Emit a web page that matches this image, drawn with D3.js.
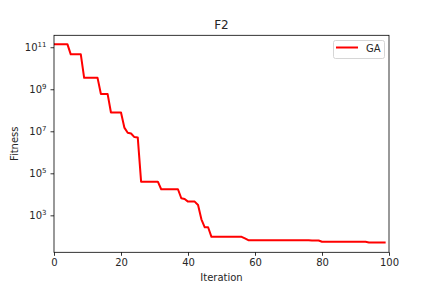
<html>
  <head>
    <style>
      body { margin: 0; background: #fff; }
      text { font-family: "DejaVu Sans", sans-serif; fill: #262626; }
    </style>
    <script src="https://cdnjs.cloudflare.com/ajax/libs/d3/7.8.5/d3.min.js"></script>
  </head>
  <body>
    <script>
      // Best fitness per iteration.
      var iterations = d3.range(0, 100);
      var fitness = [
        1.4e11, 1.4e11, 1.4e11, 1.4e11, 1.4e11,
        4.6e10, 4.6e10, 4.6e10, 4.6e10,
        3.5e9, 3.5e9, 3.5e9, 3.5e9, 3.5e9,
        6.0e8, 6.0e8, 6.0e8,
        7.8e7, 7.8e7, 7.8e7, 7.8e7,
        1.5e7, 8.5e6, 7.8e6, 5.3e6, 5.1e6,
        4.0e4, 4.0e4, 4.0e4, 4.0e4, 4.0e4, 4.0e4,
        1.74e4, 1.74e4, 1.74e4, 1.74e4, 1.74e4, 1.74e4,
        6.5e3, 6.0e3, 4.5e3, 4.5e3, 4.5e3, 3.1e3,
        650, 270, 270,
        95, 95, 95, 95, 95, 95, 95, 95, 95, 95,
        80,
        66, 66, 66, 66, 66, 66, 66, 66, 66, 66, 66, 66, 66, 66, 66, 66, 66, 66, 66,
        63, 63, 63,
        55, 55, 55, 55, 55, 55, 55, 55, 55, 55, 55, 55, 55, 55,
        51, 51, 51, 51, 51, 51, 51
      ];
      var xTicks = [0, 20, 40, 60, 80, 100];
      var yTickExps = [3, 5, 7, 9, 11];
      var seriesName = "GA";

      var width = 432, height = 288;
      // plot box (window.top is reserved, so use own names)
      var pl = 54, pr = 389, pt = 35.3, pb = 252.3;

      var svg = d3.select("body").append("svg")
        .attr("width", width)
        .attr("height", height);

      var x = d3.scaleLinear().domain([0, 100]).range([pl, pr]);
      var y = d3.scaleLog().domain([17.4, 3.7e11]).range([pb, pt]);

      // line
      var line = d3.line()
        .x(function(d, i) { return x(iterations[i]); })
        .y(function(d) { return y(d); });

      svg.append("path")
        .datum(fitness)
        .attr("d", line)
        .attr("fill", "none")
        .attr("stroke", "#ff0000")
        .attr("stroke-width", 2)
        .attr("stroke-linejoin", "round");

      // frame
      svg.append("rect")
        .attr("x", pl).attr("y", pt)
        .attr("width", pr - pl).attr("height", pb - pt)
        .attr("fill", "none").attr("stroke", "#000").attr("stroke-width", 0.8);

      // x axis
      var xAxis = svg.append("g")
        .attr("transform", "translate(0," + pb + ")")
        .call(d3.axisBottom(x).tickValues(xTicks).tickSize(3.5).tickPadding(3.5));
      xAxis.select(".domain").remove();
      xAxis.selectAll("line").attr("stroke", "#000").attr("stroke-width", 0.8);
      xAxis.selectAll("text").style("font-size", "10px").attr("fill", "#262626")
        .style("font-family", "DejaVu Sans");

      // y axis with 10^n labels
      var yAxis = svg.append("g")
        .attr("transform", "translate(" + pl + ",0)")
        .call(d3.axisLeft(y).tickValues(yTickExps.map(function(e) { return Math.pow(10, e); }))
          .tickSize(3.5).tickFormat(""));
      yAxis.select(".domain").remove();
      yAxis.selectAll("line").attr("stroke", "#000").attr("stroke-width", 0.8);

      yTickExps.forEach(function(e) {
        var t = svg.append("text")
          .attr("x", 46.5)
          .attr("y", y(Math.pow(10, e)) + 3.6)
          .attr("text-anchor", "end")
          .style("font-size", "10px");
        t.append("tspan").text("10");
        t.append("tspan").attr("dy", -4).style("font-size", "7px").text(e);
      });

      // title and labels
      svg.append("text")
        .attr("x", (pl + pr) / 2).attr("y", 29)
        .attr("text-anchor", "middle")
        .style("font-size", "12px")
        .text("F2");

      svg.append("text")
        .attr("x", (pl + pr) / 2).attr("y", 281)
        .attr("text-anchor", "middle")
        .style("font-size", "10px")
        .text("Iteration");

      svg.append("text")
        .attr("transform", "translate(18," + ((pt + pb) / 2) + ") rotate(-90)")
        .attr("text-anchor", "middle")
        .style("font-size", "10px")
        .text("Fitness");

      // legend
      var lg = svg.append("g");
      lg.append("rect")
        .attr("x", 333.5).attr("y", 40.5)
        .attr("width", 51).attr("height", 18)
        .attr("rx", 2)
        .attr("fill", "#fff").attr("fill-opacity", 0.8)
        .attr("stroke", "#cccccc").attr("stroke-width", 0.8);
      lg.append("line")
        .attr("x1", 336).attr("x2", 358)
        .attr("y1", 47.5).attr("y2", 47.5)
        .attr("stroke", "#ff0000").attr("stroke-width", 2);
      lg.append("text")
        .attr("x", 366).attr("y", 51.5)
        .style("font-size", "10px")
        .text(seriesName);
    </script>
  </body>
</html>
